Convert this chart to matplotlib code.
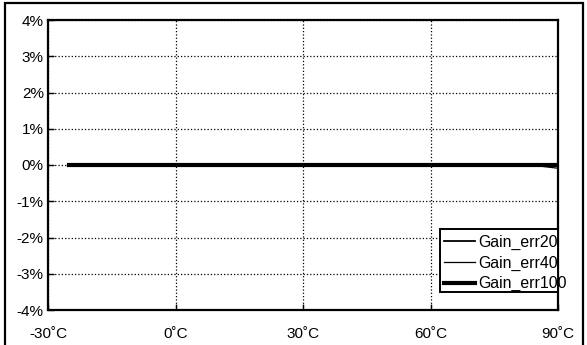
import matplotlib.pyplot as plt
from matplotlib.patches import Rectangle

plt.rcParams['font.family'] = ['Liberation Sans', 'DejaVu Sans']

# temperature in degC, gain error in %
temps = [-25, -20, -15, -10, -5, 0, 5, 10, 15, 20, 25, 30, 35, 40, 45, 50, 55, 60, 65, 70, 75, 80, 85, 90]
gain_err20 = [0, 0, 0, 0, 0, 0, 0, 0, 0, 0, 0, 0, -0.01, -0.01, -0.01, -0.01, -0.01, -0.01, -0.01, -0.01, -0.01, -0.01, -0.02, -0.03]
gain_err40 = [0, 0, 0, 0, 0, 0, 0, 0, 0, 0, 0, 0, 0, 0, 0, 0, 0, 0, 0, 0, 0, 0, -0.02, -0.09]
gain_err100 = [0, 0, 0, 0, 0, 0, 0, 0, 0, 0, 0, 0, 0, 0, 0, 0, 0, 0, 0, 0, 0, 0, 0, 0]

xticks = [-30, 0, 30, 60, 90]
xlabels = ['-30\u02daC', '0\u02daC', '30\u02daC', '60\u02daC', '90\u02daC']
yticks = [-4, -3, -2, -1, 0, 1, 2, 3, 4]
ylabels = ['-4%', '-3%', '-2%', '-1%', '0%', '1%', '2%', '3%', '4%']

W, H = 587, 345
fig = plt.figure(figsize=(W / 100, H / 100), dpi=100)
ax = fig.add_axes([48 / W, 1 - 310 / H, 510 / W, 290 / H])

ax.plot(temps, gain_err20, color='black', lw=1.3, label='Gain_err20')
ax.plot(temps, gain_err40, color='black', lw=0.9, label='Gain_err40')
ax.plot(temps, gain_err100, color='black', lw=3.0, label='Gain_err100')

ax.set_xlim(-30, 90)
ax.set_ylim(-4, 4)
ax.set_xticks(xticks)
ax.set_xticklabels(xlabels)
ax.set_yticks(yticks)
ax.set_yticklabels(ylabels)
ax.tick_params(direction='in', length=4, width=1, labelsize=11, pad=3)
ax.tick_params(axis='x', pad=12)
ax.grid(True, color='black', linestyle=':', linewidth=0.9)
for s in ax.spines.values():
    s.set_linewidth(1.6)

# legend box drawn separately, text spills over it like the original
box = Rectangle((440 / W, 1 - 292 / H), 118 / W, 63 / H, transform=fig.transFigure,
                facecolor='white', edgecolor='black', linewidth=1.4, zorder=4)
ax.add_patch(box)
leg = ax.legend(loc='upper left', bbox_to_anchor=(444 / W, 1 - 235 / H),
                bbox_transform=fig.transFigure, fontsize=11.4, frameon=False,
                handlelength=1.95, handletextpad=0.2, borderpad=0,
                labelspacing=0.34, borderaxespad=0)
leg.set_zorder(6)

# outer frame around the figure
fig.patches.append(Rectangle((5 / W, -0.05), 578 / W, 1.05 - 3 / H,
                             transform=fig.transFigure, fill=False,
                             edgecolor='black', linewidth=1.6))

fig.savefig('out.png', dpi=100)
